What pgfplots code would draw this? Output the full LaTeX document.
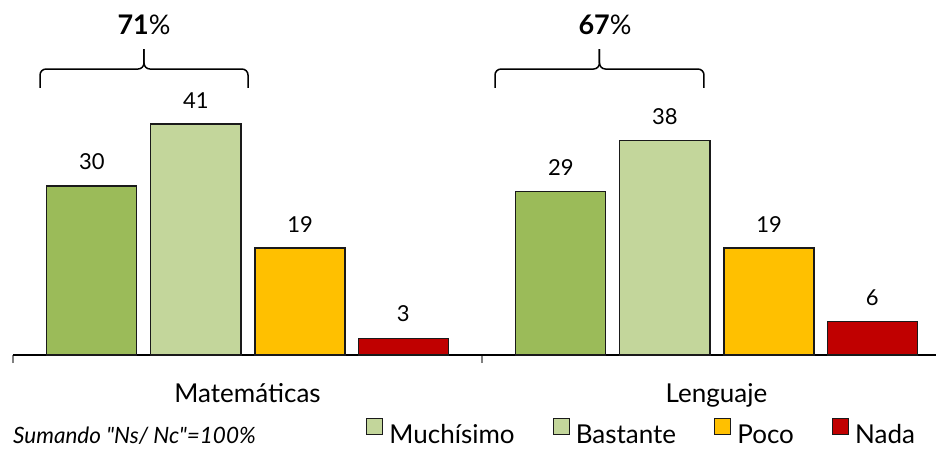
\documentclass[border=0pt]{standalone}
\usepackage{pgfplots}
\pgfplotsset{compat=1.18}
\usepackage{fontspec}
\setmainfont{Lato}[Ligatures=TeXOff]
\definecolor{cMuch}{HTML}{9BBB59}
\definecolor{cBast}{HTML}{C3D69B}
\definecolor{cPoco}{HTML}{FFC000}
\definecolor{cNada}{HTML}{C00000}
\definecolor{cEdge}{HTML}{1A1A1A}
\pgfplotsset{myleg/.style={legend image code/.code={\draw[##1, line width=1.2pt] (0pt,0pt) rectangle (16pt,16pt);}}}
\begin{document}
\begin{tikzpicture}
\useasboundingbox (-13pt,-93pt) rectangle (923pt,355pt);
\begin{axis}[
  scale only axis, width=923pt, height=355pt,
  xmin=-0.5, xmax=1.468, ymin=0, ymax=63,
  axis y line=none, axis x line*=bottom,
  axis line style={black, line width=1.2pt},
  ybar, bar width=0.192,
  xtick={0,1}, xticklabels={Matemáticas,Lenguaje},
  major tick length=0pt,
  minor xtick={-0.5,0.5},
  minor tick length=8pt,
  tick align=outside,
  minor tick style={gray, line width=1.2pt},
  xticklabel style={font=\fontsize{26}{26}\selectfont, anchor=base, yshift=-47pt},
  /pgf/number format/assume math mode=true,
  nodes near coords,
  every node near coord/.append style={font=\fontsize{22}{22}\selectfont, anchor=south, yshift=12pt, black},
  legend columns=-1,
  legend style={draw=none, fill=none, inner sep=0pt, nodes={inner ysep=0pt}, font=\fontsize{26}{26}\selectfont, at={(rel axis cs:0,0)}, anchor=south west, xshift=353pt, yshift=-90pt,
    /tikz/every odd column/.append style={column sep=4pt},
    /tikz/every even column/.append style={column sep=36pt}},
  clip=false,
]
\addplot[fill=cMuch, draw=cEdge, line width=1.2pt, bar shift=-0.332, forget plot] coordinates {(0,30) (1,29)};
\addlegendimage{myleg, fill=cBast, draw=cEdge}
\addlegendentry{Muchísimo}
\addplot[myleg, fill=cBast, draw=cEdge, line width=1.2pt, bar shift=-0.110] coordinates {(0,41) (1,38)};
\addlegendentry{Bastante}
\addplot[myleg, fill=cPoco, draw=cEdge, line width=1.2pt, bar shift=0.112] coordinates {(0,19) (1,19)};
\addlegendentry{Poco}
\addplot[myleg, fill=cNada, draw=cEdge, line width=1.2pt, bar shift=0.332] coordinates {(0,3) (1,6)};
\addlegendentry{Nada}
% braces
\draw[line width=1.5pt, rounded corners=6pt] (axis cs:-0.4424,47.4) -- (axis cs:-0.4424,50.75) -- (axis cs:-0.2207,50.75) -- (axis cs:-0.2207,54.3);
\draw[line width=1.5pt, rounded corners=6pt] (axis cs:0.0011,47.4) -- (axis cs:0.0011,50.75) -- (axis cs:-0.2207,50.75) -- (axis cs:-0.2207,54.3);
\draw[line width=1.5pt, rounded corners=6pt] (axis cs:0.5277,47.4) -- (axis cs:0.5277,50.75) -- (axis cs:0.7505,50.75) -- (axis cs:0.7505,54.3);
\draw[line width=1.5pt, rounded corners=6pt] (axis cs:0.9733,47.4) -- (axis cs:0.9733,50.75) -- (axis cs:0.7505,50.75) -- (axis cs:0.7505,54.3);
\node[anchor=base, font=\fontsize{27}{27}\selectfont] at (axis cs:-0.2207,56.8) {\textbf{71}\%};
\node[anchor=base, font=\fontsize{27}{27}\selectfont] at (axis cs:0.7623,56.8) {\textbf{67}\%};
\node[anchor=base west, inner sep=0pt, font=\itshape\fontsize{22.5}{22.5}\selectfont] at (rel axis cs:0,0) [yshift=-88pt] {Sumando "Ns/ Nc"=100\%};
\end{axis}
\end{tikzpicture}
\end{document}
